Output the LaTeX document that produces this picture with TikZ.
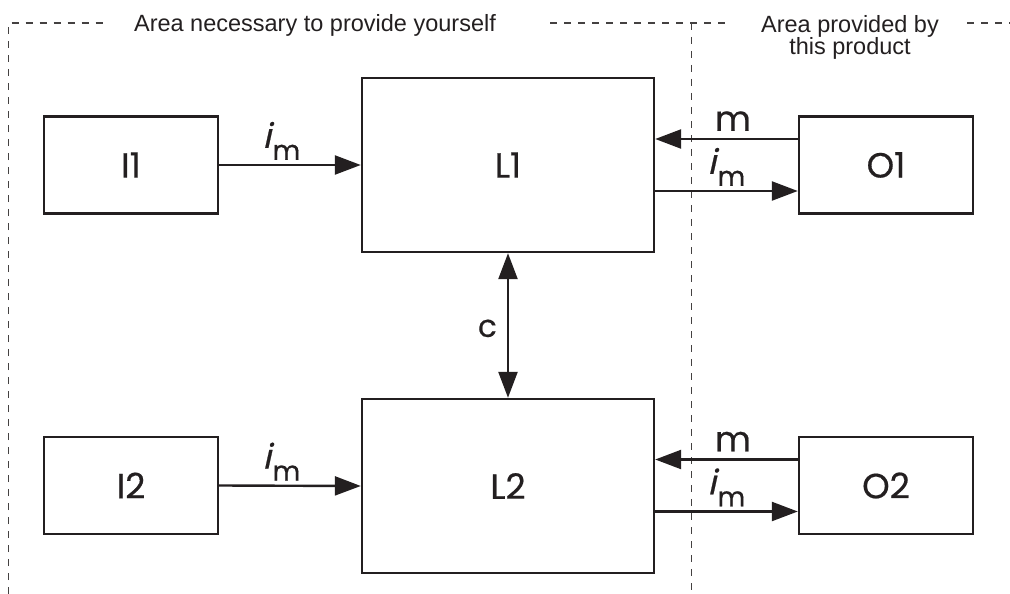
\documentclass[tikz,border=0pt]{standalone}
\usepackage{fontspec}
\setmainfont{Liberation Sans}
\newfontfamily\lab[FakeBold=0.5]{Poppins}
\newfontfamily\labit[FakeSlant=0.22,FakeBold=0.6]{Poppins}
\usetikzlibrary{arrows.meta,calc}
\definecolor{ink}{HTML}{231F20}
\newcommand\imlabel{\hbox{{\labit\fontsize{34}{34}\selectfont i}\kern1.5pt\raisebox{-12pt}{\lab\fontsize{27}{27}\selectfont m}}}
\begin{document}
\begin{tikzpicture}[x=1pt,y=-1pt,
  box/.style={draw=ink,line width=2.4pt,inner sep=0pt,font=\lab\fontsize{35}{35}\selectfont,text=ink},
  smallbox/.style={box,minimum width=174pt,minimum height=97pt},
  bigbox/.style={box,minimum width=292pt,minimum height=174pt},
  arr/.style={draw=ink,line width=2.4pt,-{Triangle[length=26pt,width=19pt]}},
  darr/.style={draw=ink,line width=2.4pt,{Triangle[length=26pt,width=19pt]}-{Triangle[length=26pt,width=19pt]}},
  area/.style={draw=ink!85,line width=1.1pt,dash pattern=on 7pt off 7pt},
  hdr/.style={font=\fontsize{23.5}{22}\selectfont,text=ink,inner sep=0pt,align=center},
  mlab/.style={font=\lab\fontsize{35}{35}\selectfont,text=ink,inner sep=0pt},
  imlab/.style={text=ink,inner sep=0pt}]
\useasboundingbox (0,0) rectangle (1010,594);
% area borders
\draw[area] (8.5,594) -- (8.5,23) -- (105,23);
\draw[area] (550,23) -- (730,23);
\draw[area] (967,23) -- (1010,23);
\draw[area] (691.5,23) -- (691.5,594);
\node[hdr,anchor=base] (h1) at (315,32) {Area necessary to provide yourself};
\node[hdr,anchor=north] (h2) at (850,15) {Area provided by\\this product};
% boxes
\node[smallbox] (I1) at (131,165) {I1};
\node[bigbox] (L1) at (508,165) {L1};
\node[smallbox] (O1) at (886,165) {O1};
\node[smallbox] (I2) at (131,485.5) {I2};
\node[bigbox] (L2) at (508,486) {L2};
\node[smallbox] (O2) at (886,485.5) {O2};
% helper coordinates
\path (O1.west) ++(0,-26) coordinate (O1m) (O1.west) ++(0,26) coordinate (O1i);
\path (O2.west) ++(0,-26) coordinate (O2m) (O2.west) ++(0,26) coordinate (O2i);
% connectors
\draw[arr] (I1.east) -- node[imlab,pos=0.44,above=4pt] {\imlabel} (L1.west);
\draw[arr] (I2.east) -- node[imlab,pos=0.44,above=4pt] {\imlabel} (L2.west);
\draw[arr] (O1m) -- node[mlab,pos=0.455,above=7pt] {m} (O1m -| L1.east);
\draw[arr] (O1i -| L1.east) -- node[imlab,pos=0.5,above=4pt] {\imlabel} (O1i);
\draw[arr] (O2m) -- node[mlab,pos=0.455,above=7pt] {m} (O2m -| L2.east);
\draw[arr] (O2i -| L2.east) -- node[imlab,pos=0.5,above=4pt] {\imlabel} (O2i);
\draw[darr] (L1.south) -- node[pos=0.52,left=10pt,inner sep=0pt,font=\lab\fontsize{31}{31}\selectfont,text=ink] {c} (L2.north);
\end{tikzpicture}
\end{document}
